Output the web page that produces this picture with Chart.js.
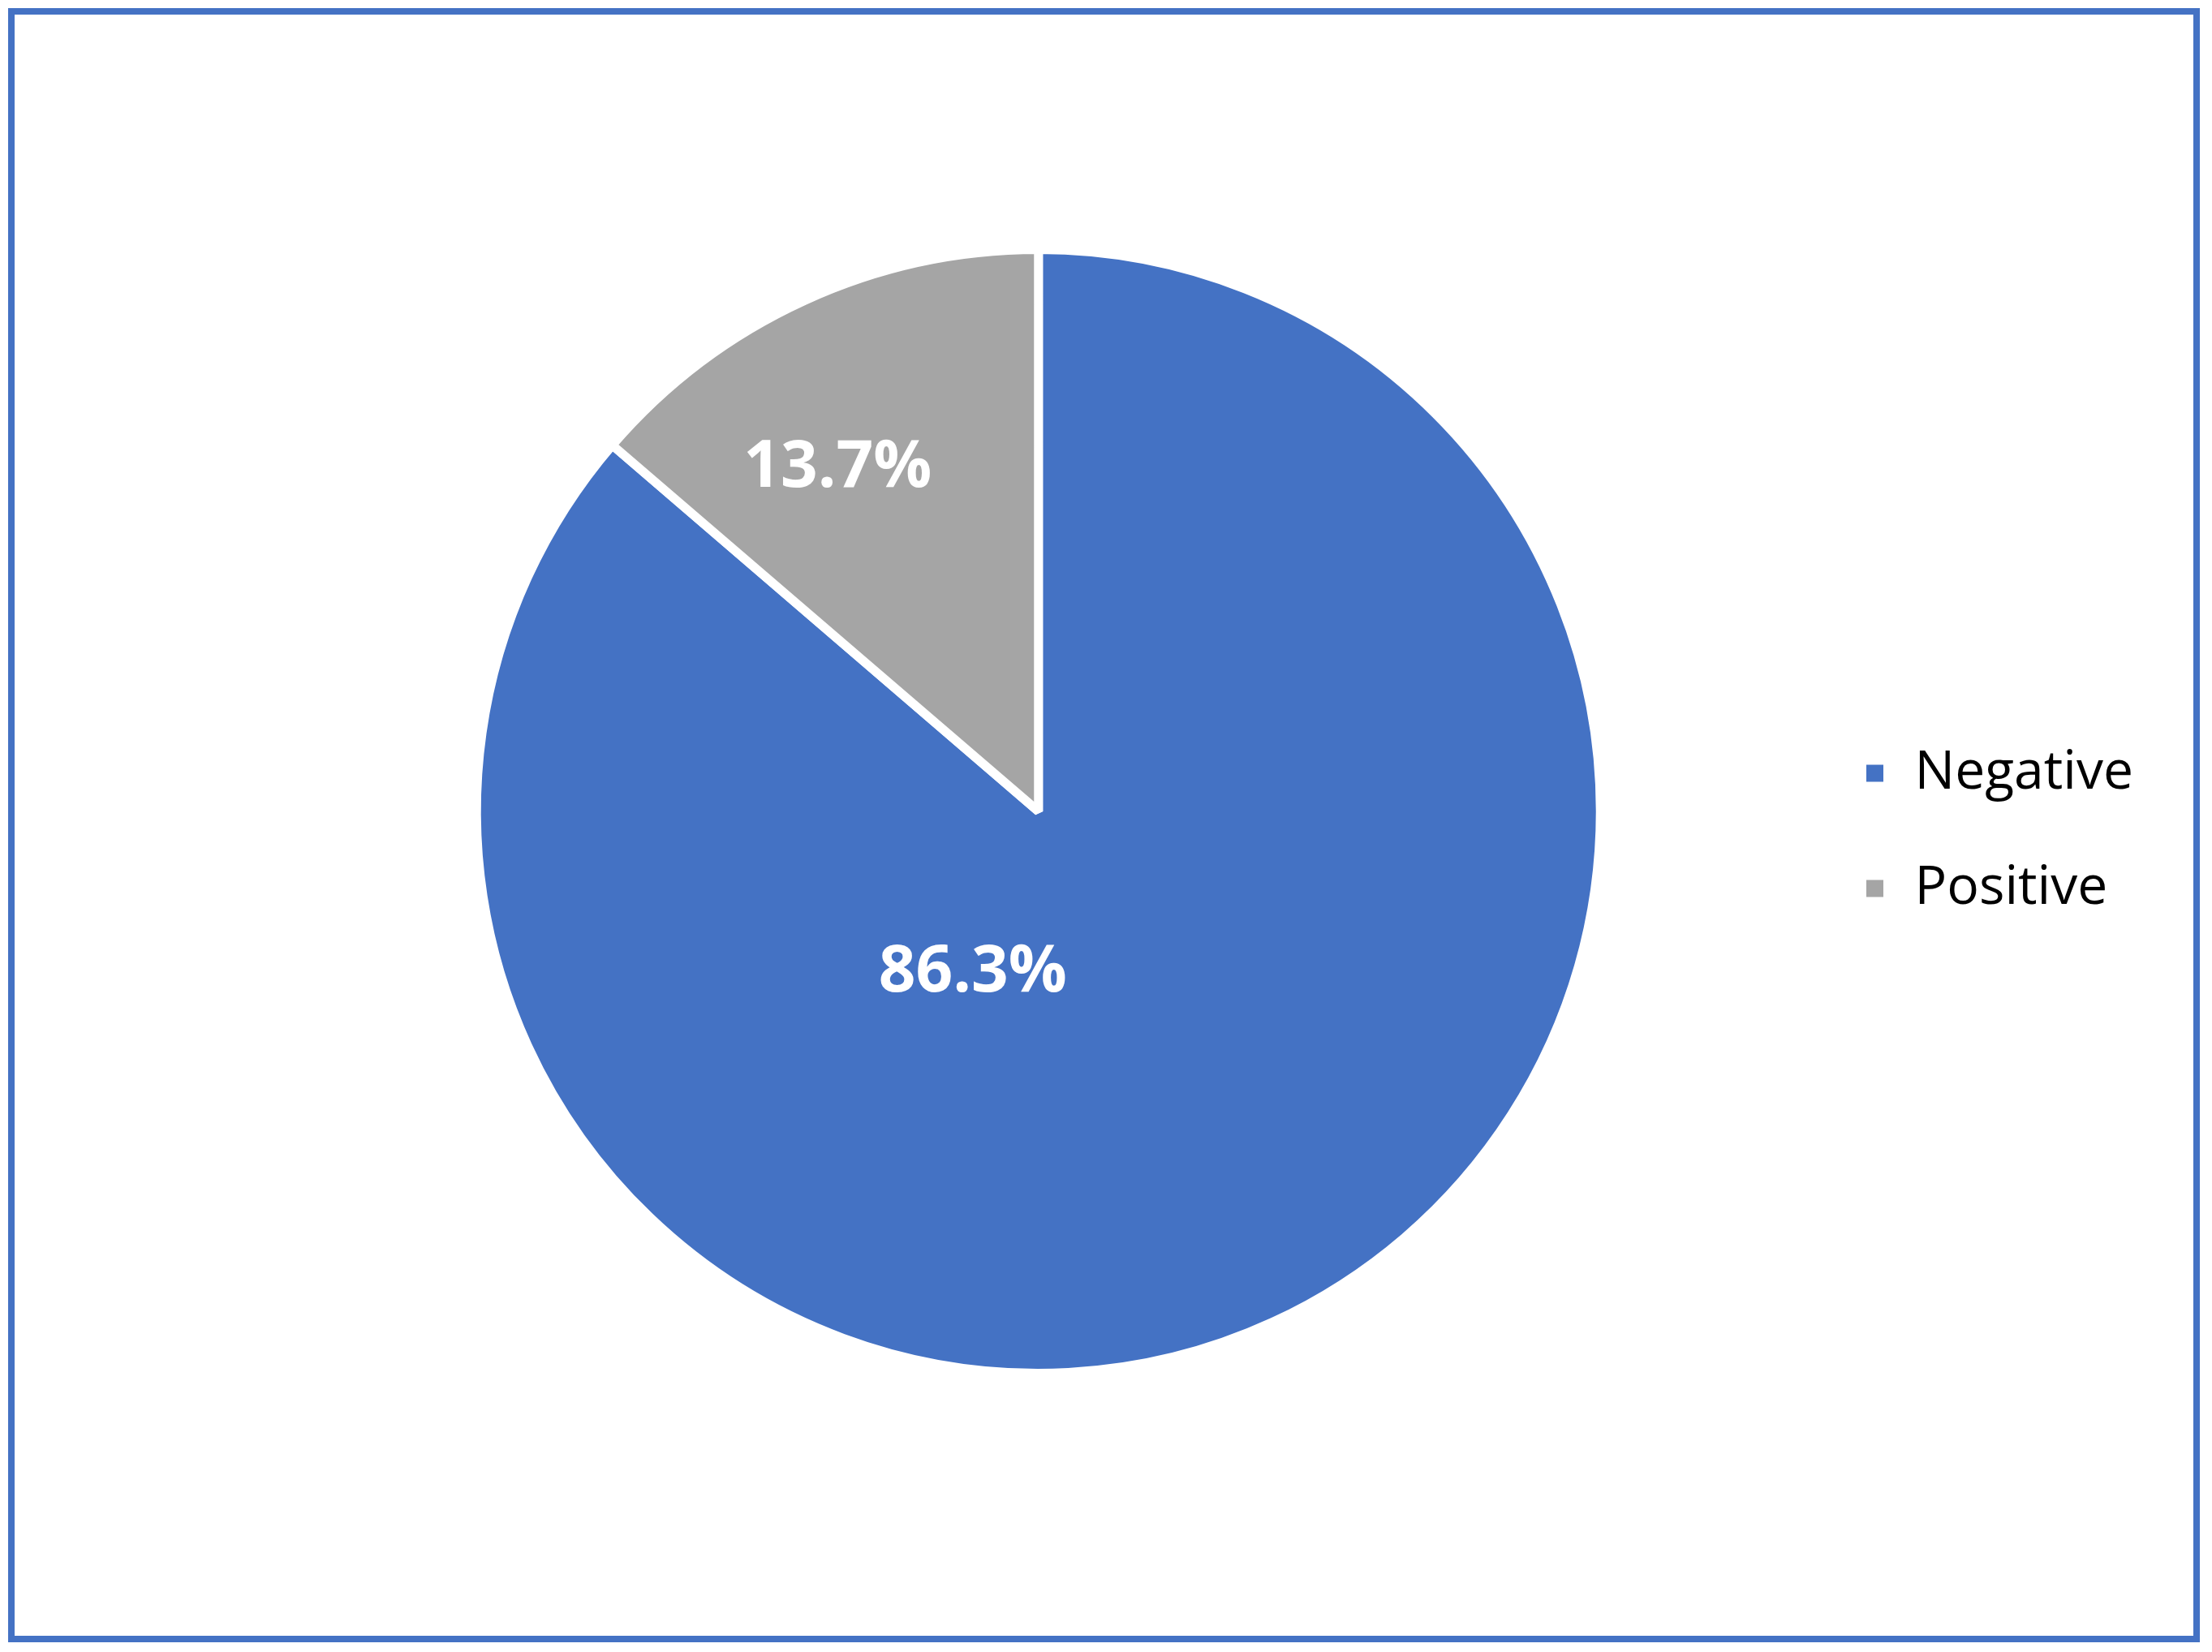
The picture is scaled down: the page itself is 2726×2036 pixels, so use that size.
<!DOCTYPE html>
<html>
<head>
<meta charset="utf-8">
<script src="https://cdn.jsdelivr.net/npm/chart.js@4.4.1/dist/chart.umd.min.js"></script>
<style>
    html, body { margin: 0; padding: 0; background: #ffffff; }
    #marco {
        position: absolute; left: 10px; top: 10px;
        width: 2701px; height: 2014px;
        box-sizing: border-box;
        border: 8px solid #4472c4;
    }
    #graficoTorta { position: absolute; left: 0; top: 0; }
</style>
</head>
<body>
<div id="marco"></div>
<canvas id="graficoTorta" width="2726" height="2036"></canvas>
<script>
// datos del grafico
const categorias = ['Negative', 'Positive'];
const porcentajes = [86.3, 13.7];
const colores = ['#4472c4', '#a5a5a5'];

// etiquetas de porcentaje dentro de cada porcion
const etiquetasPorcion = {
    id: 'etiquetasPorcion',
    afterDatasetsDraw(chart, args, opts) {
        const ctx = chart.ctx;
        const meta = chart.getDatasetMeta(0);
        ctx.save();
        ctx.fillStyle = opts.color;
        ctx.font = opts.font;
        ctx.textAlign = 'center';
        ctx.textBaseline = 'middle';
        meta.data.forEach(function(arc, i) {
            const p = arc.getProps(['x', 'y', 'startAngle', 'endAngle', 'outerRadius'], true);
            const ang = (p.startAngle + p.endAngle) / 2 + opts.giro[i] * Math.PI / 180;
            const r = p.outerRadius * opts.distancia[i];
            const valor = chart.data.datasets[0].data[i];
            ctx.fillText(valor.toFixed(1) + '%', p.x + Math.cos(ang) * r, p.y + Math.sin(ang) * r);
        });
        ctx.restore();
    }
};

document.addEventListener('DOMContentLoaded', function() {
    const ctxTorta = document.getElementById('graficoTorta').getContext('2d');

    const dataTorta = {
        labels: categorias,
        datasets: [{
            data: porcentajes,
            backgroundColor: colores,
            borderColor: '#ffffff',
            borderWidth: 11
        }]
    };

    const graficoTorta = new Chart(ctxTorta, {
        type: 'pie',
        data: dataTorta,
        plugins: [etiquetasPorcion],
        options: {
            responsive: false,
            animation: false,
            layout: {
                padding: { left: 341, right: 87, top: 302, bottom: 338 }
            },
            plugins: {
                tooltip: { enabled: false },
                legend: {
                    position: 'right',
                    // titulo vacio, solo para bajar un poco la leyenda
                    title: { display: true, text: '', font: { size: 40 }, padding: 0 },
                    labels: {
                        color: '#000000',
                        boxWidth: 32,
                        boxHeight: 32,
                        padding: 76,
                        font: { family: 'Open Sans', size: 66 }
                    }
                },
                etiquetasPorcion: {
                    color: '#ffffff',
                    font: 'bold 80px "Open Sans"',
                    giro: [46.8, -5.7],
                    distancia: [0.31, 0.707]
                }
            }
        }
    });
});
</script>
</body>
</html>
